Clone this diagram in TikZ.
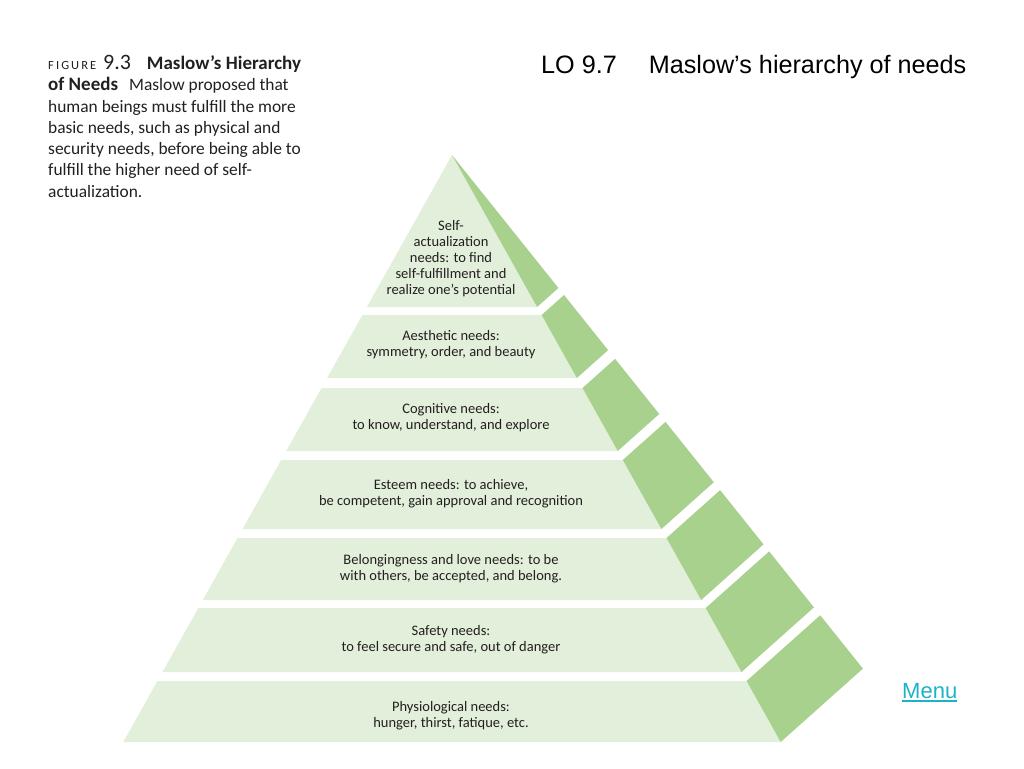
\documentclass[tikz,border=0pt]{standalone}
\usepackage{fontspec}
\setmainfont{Carlito}
\newfontfamily\arialfont{Liberation Sans}
\usepackage{tikz}

\definecolor{frontgreen}{RGB}{226,239,218}
\definecolor{sidegreen}{RGB}{169,209,142}
\definecolor{menublue}{RGB}{30,178,200}
\definecolor{inkgray}{RGB}{35,31,32}

\begin{document}
\begin{tikzpicture}[x=1pt,y=-1pt,
    front/.style={fill=frontgreen},
    side/.style={fill=sidegreen},
    need/.style={align=center,inner sep=0pt,text=inkgray,
        font=\fontsize{14.5}{16}\selectfont}]
\useasboundingbox (0,0) rectangle (1024,768);

% pyramid bands: front face and right side face
\foreach \t/\b in {155/307,315/378,388/451,460/529,538/600,608/672,681/742} {
    \pgfmathsetmacro{\lt}{452-0.56*(\t-155)}
    \pgfmathsetmacro{\rt}{452+0.56*(\t-155)}
    \pgfmathsetmacro{\lb}{452-0.56*(\b-155)}
    \pgfmathsetmacro{\rb}{452+0.56*(\b-155)}
    \pgfmathsetmacro{\bxt}{452+0.70*(\t-155)}
    \pgfmathsetmacro{\byt}{155+0.875*(\t-155)}
    \pgfmathsetmacro{\bxb}{452+0.70*(\b-155)}
    \pgfmathsetmacro{\byb}{155+0.875*(\b-155)}
    \fill[front] (\lt,\t) -- (\rt,\t) -- (\rb,\b) -- (\lb,\b) -- cycle;
    \fill[side] (\rt,\t) -- (\bxt,\byt) -- (\bxb,\byb) -- (\rb,\b) -- cycle;
}

\node[need] (selfact) at (451,259) {Self-\\actualization\\needs: to find\\self-fulfillment and\\realize one's potential};
\node[need] (aesthetic) at (451,345) {Aesthetic needs:\\symmetry, order, and beauty};
\node[need] (cognitive) at (451,418) {Cognitive needs:\\to know, understand, and explore};
\node[need] (esteem) at (451,494) {Esteem needs: to achieve,\\be competent, gain approval and recognition};
\node[need] (belong) at (451,569) {Belongingness and love needs: to be\\with others, be accepted, and belong.};
\node[need] (safety) at (451,640) {Safety needs:\\to feel secure and safe, out of danger};
\node[need] (physio) at (451,716) {Physiological needs:\\hunger, thirst, fatique, etc.};

% caption and title
\node[anchor=north west,align=left,inner sep=0pt,text=inkgray,
    font=\fontsize{17.4}{21.3}\selectfont] (caption) at (48,55)
    {{\fontsize{12.5}{21.3}\selectfont F\,I\,G\,U\,R\,E}\, {\fontsize{22}{21.3}\selectfont 9.3}\hspace{16pt}{\fontsize{19}{21.3}\selectfont\bfseries Maslow’s Hierarchy}\\
     {\fontsize{19}{21.3}\selectfont\bfseries of Needs}\hspace{11pt}Maslow proposed that\\
     human beings must fulfill the more\\
     basic needs, such as physical and\\
     security needs, before being able to\\
     fulfill the higher need of self-\\
     actualization.};
\node[anchor=base west,inner sep=0pt,font=\arialfont\fontsize{25.2}{29}\selectfont] (title) at (541,73)
    {LO 9.7\hspace{32pt}Maslow’s hierarchy of needs};
\node[anchor=base west,inner sep=0pt,text=menublue,font=\arialfont\fontsize{22}{26}\selectfont] (menu) at (902,698) {Menu};
\draw[menublue,line width=1.2pt] (menu.base west) ++(0,3) -- ([yshift=-3pt]menu.base east);
\end{tikzpicture}
\end{document}
